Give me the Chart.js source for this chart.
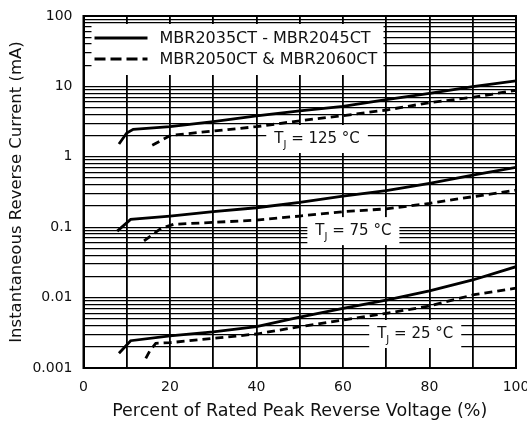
<!DOCTYPE html>
<html><head><meta charset="utf-8">
<script src="https://cdn.jsdelivr.net/npm/chart.js@4.4.0/dist/chart.umd.min.js"></script>
<style>html,body{margin:0;padding:0;background:#fff}</style>
</head><body>
<canvas id="c" width="527" height="426"></canvas>
<script>
// ---- data ----
const xSolid125 = [8.2, 10, 11.5, 20, 30, 40, 50, 60, 70, 80, 90, 100];
const ySolid125 = [1.52, 2.18, 2.46, 2.68, 3.15, 3.8, 4.5, 5.2, 6.5, 7.98, 9.9, 12];
const xDash125  = [15.9, 20.2, 30, 40, 50, 60, 70, 80, 90, 100];
const yDash125  = [1.46, 2.02, 2.32, 2.68, 3.25, 3.84, 4.62, 5.87, 7.0, 8.8];
const xSolid75  = [7.8, 10.9, 20, 30, 40, 50, 60, 70, 80, 90, 100];
const ySolid75  = [0.088, 0.129, 0.144, 0.166, 0.189, 0.225, 0.277, 0.33, 0.42, 0.55, 0.71];
const xDash75   = [14, 17.9, 20.9, 30, 40, 50, 60, 70, 80, 90, 100];
const yDash75   = [0.064, 0.096, 0.11, 0.117, 0.126, 0.144, 0.166, 0.182, 0.218, 0.271, 0.337];
const xSolid25  = [8.2, 10.9, 20, 30, 40, 50, 60, 70, 80, 90, 100];
const ySolid25  = [0.00162, 0.00244, 0.00285, 0.00325, 0.00386, 0.0053, 0.00705, 0.00924, 0.0125, 0.0178, 0.0275];
const xDash25   = [14.4, 15.3, 16.7, 20, 30, 40, 50, 60, 70, 80, 90, 100];
const yDash25   = [0.00137, 0.00174, 0.00224, 0.00229, 0.00264, 0.00304, 0.00386, 0.00481, 0.00598, 0.0076, 0.0109, 0.0136];

const xTickValues = [0, 20, 40, 60, 80, 100];
const xTickLabels = ['0', '20', '40', '60', '80', '100'];
const yTickValues = [0.001, 0.01, 0.1, 1, 10, 100];
const yTickLabels = ['0.001', '0.01', '0.1', '1', '10', '100'];
const legendLabels = ['MBR2035CT - MBR2045CT', 'MBR2050CT & MBR2060CT'];
const tempTexts = ['125 °C', '75 °C', '25 °C'];

const FONT = 'DejaVu Sans';
const pts = (xs, ys) => xs.map((x, i) => ({x: x, y: ys[i]}));
const solid = (label, xs, ys) => ({label, data: pts(xs, ys), borderColor: '#000', borderWidth: 2.8, pointRadius: 0, fill: false, tension: 0});
const dashed = (label, xs, ys) => ({label, data: pts(xs, ys), borderColor: '#000', borderWidth: 2.8, borderDash: [8, 5], pointRadius: 0, fill: false, tension: 0});

const datasets = [
  solid(legendLabels[0], xSolid125, ySolid125),
  dashed(legendLabels[1], xDash125, yDash125),
  solid(legendLabels[0], xSolid75, ySolid75),
  dashed(legendLabels[1], xDash75, yDash75),
  solid(legendLabels[0], xSolid25, ySolid25),
  dashed(legendLabels[1], xDash25, yDash25)
];

const annot = {
  id: 'annot',
  beforeDatasetsDraw(chart) {
    const ctx = chart.ctx, ca = chart.chartArea;
    const xs = chart.scales.x, ys = chart.scales.y;
    ctx.save();
    // legend box
    const lx = ca.left + 8, ly = ca.top + 8;
    ctx.fillStyle = '#fff';
    ctx.fillRect(lx, ly, 292, 51);
    ctx.strokeStyle = '#000';
    ctx.lineWidth = 2.8;
    ctx.beginPath(); ctx.moveTo(lx + 3, ly + 14); ctx.lineTo(lx + 56, ly + 14); ctx.stroke();
    ctx.setLineDash([11, 5]);
    ctx.beginPath(); ctx.moveTo(lx + 3, ly + 35); ctx.lineTo(lx + 56, ly + 35); ctx.stroke();
    ctx.setLineDash([]);
    ctx.fillStyle = '#111';
    ctx.font = '16px "' + FONT + '"';
    ctx.textBaseline = 'middle';
    ctx.textAlign = 'left';
    ctx.fillText(legendLabels[0], lx + 68, ly + 15);
    ctx.fillText(legendLabels[1], lx + 68, ly + 36);
    // temperature labels
    const anchors = [[54, 1.79], [62.4, 0.088], [76.7, 0.00304]];
    anchors.forEach((a, i) => {
      const cx = xs.getPixelForValue(a[0]), cy = ys.getPixelForValue(a[1]);
      const big = '15px "' + FONT + '"', small = '10px "' + FONT + '"';
      ctx.font = big; const wT = ctx.measureText('T').width;
      ctx.font = small; const wJ = ctx.measureText('J').width;
      ctx.font = big; const rest = ' = ' + tempTexts[i]; const wR = ctx.measureText(rest).width;
      const w = wT + wJ + wR;
      ctx.fillStyle = '#fff';
      ctx.fillRect(cx - w / 2 - 8, cy - 14, w + 16, 28);
      ctx.fillStyle = '#111';
      let x0 = cx - w / 2;
      ctx.font = big; ctx.fillText('T', x0, cy);
      ctx.font = small; ctx.fillText('J', x0 + wT, cy + 6);
      ctx.font = big; ctx.fillText(rest, x0 + wT + wJ, cy);
    });
    ctx.restore();
  },
  afterDatasetsDraw(chart) {
    const ctx = chart.ctx, ca = chart.chartArea;
    ctx.save();
    ctx.strokeStyle = '#000';
    ctx.lineWidth = 2;
    ctx.strokeRect(ca.left, ca.top, ca.right - ca.left, ca.bottom - ca.top);
    ctx.restore();
  }
};

new Chart(document.getElementById('c'), {
  type: 'line',
  data: { datasets },
  options: {
    responsive: false,
    animation: false,
    layout: { padding: { left: 0, right: 11, top: 16, bottom: 0 } },
    plugins: { legend: { display: false }, tooltip: { enabled: false } },
    scales: {
      x: {
        type: 'linear', min: 0, max: 100,
        ticks: {
          stepSize: 10, autoSkip: false, maxRotation: 0, padding: 11,
          color: '#111', font: { family: FONT, size: 14 },
          callback: v => { const i = xTickValues.indexOf(v); return i >= 0 ? xTickLabels[i] : ''; }
        },
        grid: { color: '#000', lineWidth: 1.8, drawTicks: false },
        border: { color: '#000', width: 2 },
        title: { display: true, text: 'Percent of Rated Peak Reverse Voltage (%)', color: '#111',
                 font: { family: FONT, size: 17.5 }, padding: { top: 0, bottom: 4 } },
        afterFit: s => { s.height = 58; s.paddingLeft = 0; s.paddingRight = 0; }
      },
      y: {
        type: 'logarithmic', min: 0.001, max: 100,
        afterBuildTicks: s => {
          const t = [];
          for (let d = -3; d <= 1; d++) for (let m = 1; m <= 9; m++) t.push({ value: parseFloat((m * Math.pow(10, d)).toPrecision(3)) });
          t.push({ value: 100 });
          s.ticks = t;
        },
        ticks: {
          autoSkip: false, padding: 11, color: '#111', font: { family: FONT, size: 14 },
          callback: v => { const i = yTickValues.findIndex(t => Math.abs(t - v) < t * 1e-6); return i >= 0 ? yTickLabels[i] : ''; }
        },
        grid: { color: '#000', lineWidth: 1.3, drawTicks: false },
        border: { color: '#000', width: 2 },
        title: { display: true, text: 'Instantaneous Reverse Current (mA)', color: '#111',
                 font: { family: FONT, size: 16.5 }, padding: { top: 7, bottom: 0 } },
        afterFit: s => { s.width = 83.5; s.paddingTop = 0; s.paddingBottom = 0; }
      }
    }
  },
  plugins: [annot]
});
</script>
</body></html>
